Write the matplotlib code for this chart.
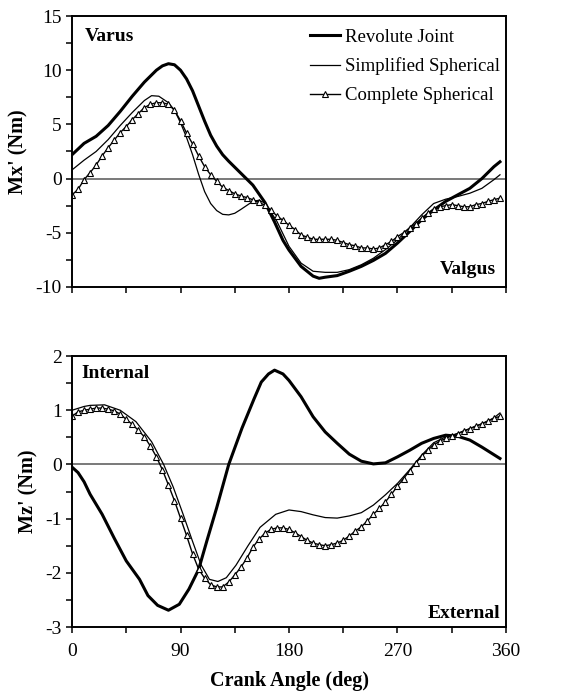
import matplotlib
matplotlib.use('Agg')
import matplotlib.pyplot as plt
from matplotlib.ticker import MultipleLocator

plt.rcParams['font.family'] = ['Liberation Serif', 'DejaVu Serif']
plt.rcParams['axes.unicode_minus'] = False

# ---- top panel: Mx' ----
rev_x_deg = [0, 10, 20, 30, 40, 50, 60, 70, 75, 80, 85, 90, 95, 100, 105, 110, 115, 120, 125,
             130, 140, 150, 160, 168, 175, 180, 190, 200, 205, 210, 220, 230, 240, 250, 260,
             270, 280, 290, 300, 310, 320, 330, 340, 350, 355]
rev_x = [2.2, 3.25, 3.9, 4.9, 6.2, 7.6, 8.9, 10.0, 10.4, 10.6, 10.5, 10.0, 9.2, 8.1, 6.7, 5.3,
         4.0, 3.0, 2.2, 1.6, 0.5, -0.6, -2.2, -4.0, -5.7, -6.6, -8.1, -9.0, -9.2, -9.1, -8.95,
         -8.55, -8.1, -7.55, -6.9, -5.95, -4.9, -3.8, -2.9, -2.1, -1.5, -0.9, 0.0, 1.1, 1.55]

simp_x_deg = [0, 10, 20, 30, 40, 50, 60, 66, 72, 80, 85, 90, 95, 100, 105, 110, 115, 120, 125,
              130, 135, 140, 150, 155, 160, 170, 180, 190, 200, 210, 220, 230, 240, 250, 260,
              270, 280, 290, 300, 310, 320, 330, 340, 350, 355]
simp_x = [0.8, 1.7, 2.5, 3.6, 4.9, 6.1, 7.2, 7.65, 7.6, 7.0, 6.3, 5.15, 3.8, 2.2, 0.4, -1.2,
          -2.3, -2.95, -3.3, -3.35, -3.2, -2.85, -2.1, -2.0, -2.25, -3.95, -6.25, -7.8, -8.55,
          -8.65, -8.65, -8.4, -7.95, -7.35, -6.55, -5.65, -4.55, -3.35, -2.3, -1.9, -1.65,
          -1.35, -0.9, -0.1, 0.35]

comp_deg = list(range(0, 360, 5))
comp_x = [-1.5, -1.0, -0.1, 0.55, 1.25, 2.1, 2.85, 3.55, 4.25, 4.8, 5.45, 6.0, 6.55, 6.85, 7.0,
          7.0, 6.85, 6.3, 5.35, 4.2, 3.2, 2.1, 1.1, 0.35, -0.25, -0.8, -1.1, -1.4, -1.6, -1.75,
          -1.95, -2.2, -2.45, -2.9, -3.45, -3.85, -4.3, -4.7, -5.2, -5.4, -5.6, -5.6, -5.6, -5.6,
          -5.7, -5.9, -6.1, -6.2, -6.4, -6.4, -6.5, -6.4, -6.1, -5.8, -5.35, -5.0, -4.55, -4.15,
          -3.65, -3.2, -2.8, -2.6, -2.5, -2.4, -2.5, -2.6, -2.6, -2.4, -2.3, -2.1, -1.95, -1.8]

# ---- bottom panel: Mz' ----
rev_z_deg = [0, 5, 10, 15, 25, 35, 45, 56, 63, 71, 80, 89, 97, 105, 112, 120, 130, 141, 151,
             157, 163, 168, 175, 180, 190, 200, 210, 220, 230, 240, 250, 260, 270, 280, 290,
             300, 310, 320, 330, 340, 350, 355]
rev_z = [-0.05, -0.15, -0.32, -0.55, -0.92, -1.36, -1.78, -2.12, -2.42, -2.6, -2.69, -2.58,
         -2.3, -1.94, -1.4, -0.8, 0.0, 0.67, 1.21, 1.52, 1.67, 1.74, 1.67, 1.55, 1.25, 0.88,
         0.60, 0.39, 0.19, 0.06, 0.01, 0.03, 0.14, 0.26, 0.39, 0.48, 0.54, 0.52, 0.45, 0.32,
         0.18, 0.11]

simp_z_deg = [0, 10, 15, 27, 40, 53, 66, 76, 84, 92, 100, 107, 114, 121, 128, 136, 146, 156,
              169, 180, 190, 200, 210, 220, 230, 240, 250, 260, 270, 280, 290, 300, 310, 320,
              330, 340, 350, 355]
simp_z = [1.0, 1.07, 1.09, 1.1, 1.0, 0.79, 0.42, 0.0, -0.42, -0.91, -1.42, -1.85, -2.12, -2.16,
          -2.09, -1.86, -1.5, -1.16, -0.92, -0.84, -0.87, -0.93, -0.98, -0.99, -0.95, -0.89,
          -0.75, -0.56, -0.35, -0.10, 0.17, 0.40, 0.51, 0.57, 0.66, 0.75, 0.86, 0.95]

comp_z = [0.89, 0.97, 1.0, 1.02, 1.04, 1.04, 1.02, 0.99, 0.93, 0.83, 0.74, 0.63, 0.51, 0.34, 0.14,
          -0.10, -0.38, -0.67, -0.99, -1.31, -1.65, -1.93, -2.10, -2.22, -2.26, -2.26, -2.17,
          -2.04, -1.90, -1.73, -1.53, -1.38, -1.27, -1.20, -1.17, -1.17, -1.20, -1.26, -1.33,
          -1.40, -1.45, -1.48, -1.50, -1.48, -1.45, -1.40, -1.32, -1.23, -1.15, -1.04, -0.92,
          -0.81, -0.69, -0.55, -0.40, -0.26, -0.12, 0.02, 0.15, 0.26, 0.36, 0.43, 0.48, 0.53,
          0.57, 0.62, 0.66, 0.71, 0.75, 0.80, 0.85, 0.89]

x_ticks = [0, 90, 180, 270, 360]

fig = plt.figure(figsize=(5.72, 6.93), dpi=100)
ax1 = fig.add_axes([0.1259, 0.5859, 0.7587, 0.391])
ax2 = fig.add_axes([0.1259, 0.0952, 0.7587, 0.391])


def style(ax, ylim, ymaj, ymin):
    ax.set_xlim(0, 360)
    ax.set_ylim(*ylim)
    ax.xaxis.set_major_locator(MultipleLocator(90))
    ax.xaxis.set_minor_locator(MultipleLocator(45))
    ax.yaxis.set_major_locator(MultipleLocator(ymaj))
    ax.yaxis.set_minor_locator(MultipleLocator(ymin))
    ax.tick_params(which='both', direction='out', length=4.5, width=1.1, labelsize=14)
    ax.tick_params(axis='x', pad=7)
    ax.tick_params(axis='y', pad=3)
    for s in ax.spines.values():
        s.set_linewidth(1.4)
    ax.axhline(0, color='#555555', lw=1.1, zorder=1)


style(ax1, (-10, 15), 5, 2.5)
style(ax2, (-3, 2), 1, 0.5)

ax1.plot(rev_x_deg, rev_x, color='black', lw=2.2, label='Revolute Joint')
ax1.plot(simp_x_deg, simp_x, color='black', lw=0.9, label='Simplified Spherical')
ax1.plot(comp_deg, comp_x, color='black', lw=1.0, marker='^', ms=4.5, mfc='white',
         mew=0.8, label='Complete Spherical')
ax1.set_xticklabels([])
ax1.set_ylabel("Mx' (Nm)", fontsize=14.5, fontweight='bold', labelpad=5)
ax1.legend(loc='upper left', bbox_to_anchor=(0.548, 0.953), frameon=False, fontsize=13.5,
           handlelength=1.6, handletextpad=0.3, labelspacing=0.62, borderaxespad=0,
           borderpad=0, numpoints=1)
ax1.text(0.03, 0.925, 'Varus', transform=ax1.transAxes, fontsize=14, fontweight='bold',
         va='center', ha='left')
ax1.text(0.977, 0.066, 'Valgus', transform=ax1.transAxes, fontsize=14, fontweight='bold',
         va='center', ha='right')

ax2.plot(rev_z_deg, rev_z, color='black', lw=2.2)
ax2.plot(simp_z_deg, simp_z, color='black', lw=0.9)
ax2.plot(comp_deg, comp_z, color='black', lw=1.0, marker='^', ms=4.5, mfc='white', mew=0.8)
ax2.set_xticks(x_ticks)
ax2.set_xticklabels([str(t) for t in x_ticks])
ax2.set_ylabel("Mz' (Nm)", fontsize=14.5, fontweight='bold', labelpad=5)
ax2.set_xlabel('Crank Angle (deg)', fontsize=14.5, fontweight='bold', labelpad=8)
ax2.text(0.021, 0.936, 'Internal', transform=ax2.transAxes, fontsize=14, fontweight='bold',
         va='center', ha='left')
ax2.text(0.986, 0.05, 'External', transform=ax2.transAxes, fontsize=14, fontweight='bold',
         va='center', ha='right')

fig.savefig('out.png', dpi=100)
